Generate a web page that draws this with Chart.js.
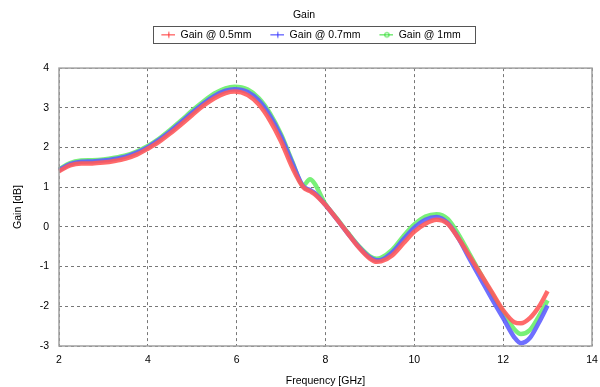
<!DOCTYPE html>
<html lang="en">
  <head>
    <meta charset="UTF-8" />
    <title>Gain</title>
    <script src="https://cdn.jsdelivr.net/npm/chart.js"></script>
    <style>
      body,
      html {
        margin: 0;
        background: #fff;
        font-family: "Liberation Sans", Arial, sans-serif;
      }
    </style>
  </head>
  <body>
    <canvas id="myChart" width="600" height="387"></canvas>
    <script>
      // frequency points (GHz)
      const freq = [2, 2.25, 2.5, 2.75, 3, 3.25, 3.5, 3.75, 4, 4.25, 4.5, 4.75, 5, 5.25, 5.5, 5.75, 5.95, 6.25, 6.5, 6.75, 7, 7.25, 7.5, 7.65, 7.75, 8, 8.25, 8.5, 8.75, 9, 9.15, 9.25, 9.5, 9.75, 10, 10.25, 10.5, 10.75, 11, 11.25, 11.5, 11.75, 12, 12.25, 12.4, 12.6, 12.8, 13];
      const gain05 = [1.4, 1.55, 1.6, 1.6, 1.62, 1.66, 1.72, 1.82, 1.97, 2.14, 2.35, 2.58, 2.82, 3.05, 3.24, 3.37, 3.41, 3.32, 3.08, 2.68, 2.15, 1.5, 1.0, 0.9, 0.83, 0.55, 0.2, -0.16, -0.52, -0.8, -0.88, -0.87, -0.72, -0.42, -0.12, 0.08, 0.18, 0.08, -0.3, -0.75, -1.2, -1.65, -2.1, -2.4, -2.43, -2.3, -2.02, -1.62];
      const gain07 = [1.43, 1.58, 1.64, 1.65, 1.67, 1.71, 1.77, 1.87, 2.01, 2.19, 2.4, 2.64, 2.88, 3.11, 3.3, 3.43, 3.47, 3.4, 3.18, 2.8, 2.28, 1.62, 1.02, 0.93, 0.86, 0.55, 0.2, -0.16, -0.5, -0.77, -0.84, -0.83, -0.64, -0.32, -0.02, 0.18, 0.25, 0.1, -0.3, -0.82, -1.32, -1.82, -2.3, -2.78, -2.93, -2.8, -2.42, -1.98];
      const gain1 = [1.45, 1.61, 1.67, 1.68, 1.7, 1.74, 1.8, 1.9, 2.04, 2.22, 2.44, 2.68, 2.93, 3.16, 3.36, 3.49, 3.53, 3.46, 3.24, 2.86, 2.33, 1.65, 1.05, 1.2, 1.1, 0.57, 0.22, -0.14, -0.48, -0.74, -0.8, -0.78, -0.58, -0.24, 0.06, 0.26, 0.32, 0.2, -0.2, -0.7, -1.2, -1.7, -2.15, -2.58, -2.7, -2.6, -2.26, -1.85];
      const xTicks = [2, 4, 6, 8, 10, 12, 14];
      const yTicks = [-3, -2, -1, 0, 1, 2, 3, 4];

      const seriesNames = ["Gain @ 0.5mm", "Gain @ 0.7mm", "Gain @ 1mm"];
      const lineColors = ["rgba(255, 90, 90, 0.9)", "rgba(95, 95, 255, 0.9)", "rgba(105, 238, 105, 0.9)"];
      const keyColors = ["#ff3333", "#3333ff", "#33dd33"];
      const markers = ["cross", "cross", "circle"];
      const fontFamily = "Liberation Sans";
      const fontSize = 10.5;

      // legend key: transparent gap on the left, then a short line with a marker
      function legendIcon(color, marker) {
        const c = document.createElement("canvas");
        c.width = 28;
        c.height = 9;
        const g = c.getContext("2d");
        g.strokeStyle = color;
        g.lineWidth = 1;
        g.beginPath();
        g.moveTo(14, 4.5);
        g.lineTo(28, 4.5);
        if (marker === "cross") {
          g.moveTo(21.5, 1.5);
          g.lineTo(21.5, 7.5);
        }
        g.stroke();
        if (marker === "circle") {
          g.beginPath();
          g.arc(21.5, 4.5, 2.3, 0, Math.PI * 2);
          g.stroke();
        }
        return c;
      }

      const allSeries = [gain05, gain07, gain1];
      const datasets = allSeries.map((vals, i) => ({
        label: seriesNames[i],
        data: freq.map((f, j) => ({ x: f, y: vals[j] })),
        borderColor: lineColors[i],
        backgroundColor: lineColors[i],
        borderWidth: 4.5,
        pointRadius: 0,
        pointStyle: legendIcon(keyColors[i], markers[i]),
        cubicInterpolationMode: "monotone",
        fill: false,
      }));

      const framePlugin = {
        id: "frame",
        afterDraw(chart) {
          const ctx = chart.ctx;
          const a = chart.chartArea;
          ctx.save();
          ctx.strokeStyle = "#a0a0a0";
          ctx.lineWidth = 1.5;
          ctx.strokeRect(a.left, a.top, a.right - a.left, a.bottom - a.top);
          const hb = chart.legend.legendHitBoxes;
          const first = hb[0];
          const last = hb[hb.length - 1];
          const cy = first.top + first.height / 2;
          const x0 = Math.round(first.left + 14 - 8) + 0.5;
          const x1 = Math.round(last.left + last.width + 14) + 0.5;
          ctx.strokeStyle = "#555";
          ctx.lineWidth = 1;
          ctx.strokeRect(x0, Math.round(cy - 8.5) + 0.5, x1 - x0, 17);
          ctx.restore();
        },
      };

      const ctx = document.getElementById("myChart").getContext("2d");
      new Chart(ctx, {
        type: "line",
        data: { datasets },
        plugins: [framePlugin],
        options: {
          responsive: false,
          animation: false,
          layout: { padding: { left: 8, right: 0, top: 5, bottom: 0 } },
          plugins: {
            title: {
              display: true,
              text: "Gain",
              color: "#000",
              font: { family: fontFamily, size: fontSize, weight: "normal" },
              padding: { top: 4, bottom: 3 },
            },
            legend: {
              position: "top",
              labels: {
                usePointStyle: true,
                pointStyleWidth: 28,
                color: "#000",
                font: { family: fontFamily, size: fontSize },
                padding: 5,
                boxHeight: 9,
              },
            },
            tooltip: { enabled: false },
          },
          scales: {
            spacer: {
              type: "linear",
              position: "top",
              axis: "x",
              display: true,
              afterFit: (s) => {
                s.height = 18;
              },
              grid: { display: false, drawTicks: false },
              border: { display: false },
              ticks: { display: false },
            },
            x: {
              type: "linear",
              min: 2,
              max: 14,
              afterBuildTicks: (s) => {
                s.ticks = xTicks.map((v) => ({ value: v }));
              },
              afterFit: (s) => {
                s.height = 41;
                s.paddingRight = 8;
              },
              grid: {
                color: "#777",
                lineWidth: 1,
                drawTicks: false,
              },
              border: { display: false, dash: [3, 3] },
              ticks: {
                color: "#000",
                padding: 8,
                font: { family: fontFamily, size: fontSize },
                maxRotation: 0,
              },
              title: {
                display: true,
                text: "Frequency [GHz]",
                color: "#000",
                font: { family: fontFamily, size: fontSize },
                padding: { top: 4, bottom: 0 },
              },
            },
            y: {
              min: -3,
              max: 4,
              afterBuildTicks: (s) => {
                s.ticks = yTicks.map((v) => ({ value: v }));
              },
              afterFit: (s) => {
                s.width = 51;
              },
              grid: {
                color: "#777",
                lineWidth: 1,
                drawTicks: false,
              },
              border: { display: false, dash: [3, 3] },
              ticks: {
                color: "#000",
                padding: 10,
                font: { family: fontFamily, size: fontSize },
              },
              title: {
                display: true,
                text: "Gain [dB]",
                color: "#000",
                font: { family: fontFamily, size: fontSize },
                padding: { bottom: 4 },
              },
            },
          },
        },
      });
    </script>
  </body>
</html>
